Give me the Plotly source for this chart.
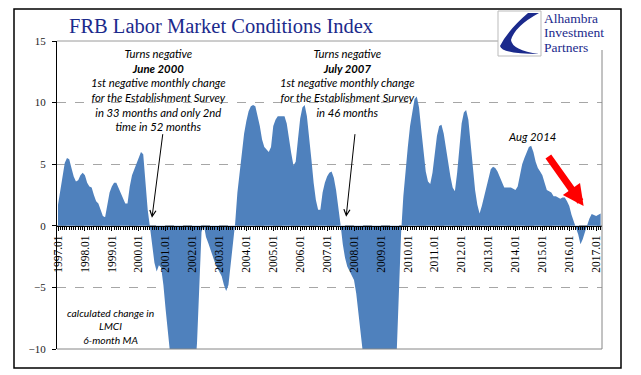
import plotly.graph_objects as go

# ---- data (monthly, 1997.01 .. 2017.03), 6-month MA change in LMCI ----
values = [
    1.7, 2.9, 4.3, 5.1, 5.5, 5.4, 4.7, 4.0, 3.6, 3.7, 4.1, 4.3,          # 1997
    4.1, 3.5, 3.2, 3.1, 2.5, 2.0, 1.8, 1.3, 0.8, 0.7, 1.8, 2.7,          # 1998
    3.2, 3.5, 3.5, 3.1, 2.7, 2.2, 1.8, 1.8, 3.2, 4.1, 4.6, 5.1,          # 1999
    5.6, 6.0, 5.8, 3.6, 1.3, -0.1, -1.7, -3.0, -3.7, -3.2, -3.4, -4.8,   # 2000
    -6.8, -9.0, -11.5, -13.5, -15.0, -16.5, -17.5, -18.0, -17.5, -16.5, -15.5, -14.5,  # 2001
    -13.5, -12.0, -9.5, -5.0, -0.5, 0.1, -0.9, -1.4, -2.0, -2.5, -3.0, -3.4,  # 2002
    -3.7, -4.1, -4.8, -5.3, -4.8, -3.3, -1.7, 0.2, 2.7, 4.3, 5.9, 7.5,   # 2003
    8.5, 9.3, 9.7, 9.8, 9.7, 8.9, 8.1, 7.0, 6.4, 6.2, 6.0, 6.4,          # 2004
    8.1, 8.6, 8.9, 8.9, 8.9, 8.9, 8.3, 7.0, 5.9, 4.9, 5.2, 7.0,          # 2005
    8.7, 9.6, 9.8, 8.9, 7.3, 5.4, 3.5, 2.1, 1.3, 1.3, 2.7, 3.5,          # 2006
    4.0, 4.3, 4.4, 3.9, 2.9, 1.6, 0.1, -1.5, -2.6, -3.3, -3.7, -4.0,     # 2007
    -4.4, -5.5, -7.4, -9.3, -11.5, -13.5, -15.0, -16.5, -17.5, -18.5, -19.0, -19.0,  # 2008
    -18.5, -17.5, -16.5, -15.5, -14.5, -13.5, -12.5, -10.5, -5.5, -0.6, 2.4, 4.8,    # 2009
    6.4, 8.1, 9.4, 10.3, 10.5, 9.6, 7.8, 5.9, 4.4, 3.6, 3.4, 4.3,        # 2010
    5.8, 7.3, 8.1, 8.2, 7.5, 6.2, 5.1, 4.0, 3.1, 2.8, 4.3, 6.4,          # 2011
    8.3, 9.2, 9.4, 8.6, 6.7, 4.7, 2.9, 1.7, 1.0, 1.6, 2.4, 3.2,          # 2012
    4.0, 4.6, 4.8, 4.7, 4.4, 4.0, 3.6, 3.1, 3.1, 3.1, 3.1, 3.0,          # 2013
    2.9, 3.2, 4.1, 5.0, 5.5, 6.0, 6.4, 6.5, 6.0, 5.2, 4.7, 4.4,          # 2014
    4.1, 3.5, 2.9, 2.8, 2.7, 2.4, 2.4, 2.3, 2.2, 2.3, 2.3, 2.0,          # 2015
    1.6, 0.9, 0.4, -0.1, -0.7, -1.5, -1.1, -0.5, 0.1, 0.6, 0.95, 0.9,   # 2016
    0.8, 0.9, 1.0,                                                       # 2017
]
months = list(range(len(values)))

tick_months = [0, 12, 24, 36, 48, 60, 72, 84, 96, 108, 120,
               132, 144, 156, 168, 180, 192, 204, 216, 228, 240]
tick_labels = ["1997.01", "1998.01", "1999.01", "2000.01", "2001.01", "2002.01",
               "2003.01", "2004.01", "2005.01", "2006.01", "2007.01", "2008.01",
               "2009.01", "2010.01", "2011.01", "2012.01", "2013.01", "2014.01",
               "2015.01", "2016.01", "2017.01"]

# ---- layout helpers ----
# The page body adds an 8px margin, so the figure is drawn 8px smaller and
# reference pixel positions are shifted by that offset.
OFF = 8
W, H = 641 - OFF, 375 - OFF
L, R, T, B = 57 - OFF, 602 - OFF, 41 - OFF, 349 - OFF
def px(x):
    return (x - OFF - L) / (R - L)
def py(y):
    return (B - (y - OFF)) / (B - T)

NAVY = "#1B2A8C"
BLUE = "#4F81BD"
SERIF = "Liberation Serif, Times New Roman, serif"
SANS = "Lato, Open Sans, sans-serif"

fig = go.Figure()
fig.add_trace(go.Scatter(
    x=months, y=values, mode="lines", fill="tozeroy",
    line=dict(width=0, color=BLUE), fillcolor=BLUE, hoverinfo="skip",
    showlegend=False,
))

fig.update_layout(
    width=W, height=H,
    margin=dict(l=L, r=W - R, t=T, b=H - B, pad=0),
    paper_bgcolor="white", plot_bgcolor="white",
    showlegend=False,
    xaxis=dict(
        range=[-0.45, 242.6],
        anchor="free", position=0.4,
        showgrid=False, zeroline=False,
        showline=True, linecolor="black", linewidth=1,
        tickmode="array", tickvals=tick_months, ticktext=tick_labels,
        ticks="outside", ticklen=4, tickcolor="black", tickwidth=1,
        tickangle=-90,
        tickfont=dict(family=SERIF, size=11.5, color="black"),
        minor=dict(tickmode="linear", tick0=0, dtick=1, ticks="outside",
                   ticklen=3, tickcolor="black", tickwidth=1, showgrid=False),
    ),
    yaxis=dict(
        range=[-10, 15], tickmode="linear", tick0=-10, dtick=5,
        showgrid=True, gridcolor="#A6A6A6", griddash="dash", gridwidth=1,
        zeroline=False,
        showline=True, linecolor="black", linewidth=1,
        ticks="outside", ticklen=4, tickcolor="black",
        ticklabelstandoff=4,
        tickfont=dict(family=SERIF, size=11, color="#222222"),
    ),
)

shapes = [
    # outer frame
    dict(type="rect", xref="paper", yref="paper",
         x0=px(14), x1=px(621), y0=py(368), y1=py(9),
         line=dict(color="black", width=1.5), fillcolor="rgba(0,0,0,0)"),
    # plot area border (bottom/right/top)
    dict(type="line", xref="paper", yref="paper", x0=0, x1=1, y0=0, y1=0,
         line=dict(color="#868686", width=1)),
    dict(type="line", xref="paper", yref="paper", x0=1, x1=1, y0=0, y1=py(50),
         line=dict(color="#868686", width=1)),
    dict(type="rect", xref="paper", yref="paper", layer="above",
         x0=px(497), x1=px(606), y0=py(49.5), y1=py(12),
         line=dict(width=0), fillcolor="white"),
    dict(type="line", xref="paper", yref="paper", x0=0, x1=px(498), y0=1, y1=1,
         line=dict(color="#9A9A9A", width=1)),
    # logo box
    dict(type="rect", xref="paper", yref="paper", layer="above",
         x0=px(498), x1=px(541), y0=py(56), y1=py(11),
         line=dict(color="#BBBBBB", width=1), fillcolor="white"),
    dict(type="path", xref="paper", yref="paper", layer="above",
         path=("M {a},{b} L {c},{d} Q {e},{f} {g},{h} Q {i},{j} {k},{l} "
               "Q {m},{n} {o},{p} Q {q},{r} {a},{b} Z").format(
             a=px(539), b=py(13), c=px(528), d=py(13),
             e=px(508), f=py(30), g=px(500), h=py(46),
             i=px(502), j=py(54), k=px(539), l=py(54),
             m=px(512), n=py(50), o=px(511), p=py(40),
             q=px(515), r=py(26)),
         line=dict(width=0), fillcolor=NAVY),
]
fig.update_layout(shapes=shapes)

ann = []
# title
ann.append(dict(xref="paper", yref="paper", x=px(67), y=py(26), xanchor="left",
                yanchor="middle", showarrow=False,
                text="FRB Labor Market Conditions Index",
                font=dict(family=SERIF, size=20.5, color=NAVY)))
# logo text
for txt, yy in [("Alhambra", 18), ("Investment", 32.8), ("Partners", 47.2)]:
    ann.append(dict(xref="paper", yref="paper", x=px(542), y=py(yy),
                    xanchor="left", yanchor="middle", showarrow=False, text=txt,
                    font=dict(family=SERIF, size=13.5, color=NAVY)))

# text notes
ann.append(dict(x=44.6, y=11.0, xref="x", yref="y", showarrow=False,
                xanchor="center", yanchor="middle", align="center",
                text=("<i>Turns negative<br><b>June 2000</b><br>1st negative monthly change"
                      "<br>for the Establishment Survey<br>in 33 months and only 2nd"
                      "<br>time in 52 months</i>"),
                font=dict(family=SANS, size=11.3, color="black")))
ann.append(dict(x=129.3, y=11.6, xref="x", yref="y", showarrow=False,
                xanchor="center", yanchor="middle", align="center",
                text=("<i>Turns negative<br><b>July 2007</b><br>1st negative monthly change"
                      "<br>for the Establishment Survey<br>in 46 months</i>"),
                font=dict(family=SANS, size=11.3, color="black")))
ann.append(dict(x=211.4, y=7.24, xref="x", yref="y", showarrow=False,
                text="<i>Aug 2014</i>", font=dict(family=SANS, size=11.3, color="black")))
ann.append(dict(x=23.2, y=-8.2, xref="x", yref="y", showarrow=False, align="center",
                text="<i>calculated change in<br>LMCI<br>6-month MA</i>",
                font=dict(family=SANS, size=10.3, color="black")))
# arrows
ann.append(dict(x=41.9, y=0.65, ax=46.8, ay=7.56, xref="x", yref="y",
                axref="x", ayref="y", text="", showarrow=True,
                arrowhead=5, arrowsize=1.2, arrowwidth=1, arrowcolor="black"))
ann.append(dict(x=128.5, y=0.73, ax=132.5, ay=7.56, xref="x", yref="y",
                axref="x", ayref="y", text="", showarrow=True,
                arrowhead=5, arrowsize=1.2, arrowwidth=1, arrowcolor="black"))
ann.append(dict(x=234.4, y=1.6, ax=218.2, ay=5.75, xref="x", yref="y",
                axref="x", ayref="y", text="", showarrow=True,
                arrowhead=2, arrowsize=0.6, arrowwidth=7, arrowcolor="#FF0000"))
fig.update_layout(annotations=ann)

fig.write_html("out.html")
